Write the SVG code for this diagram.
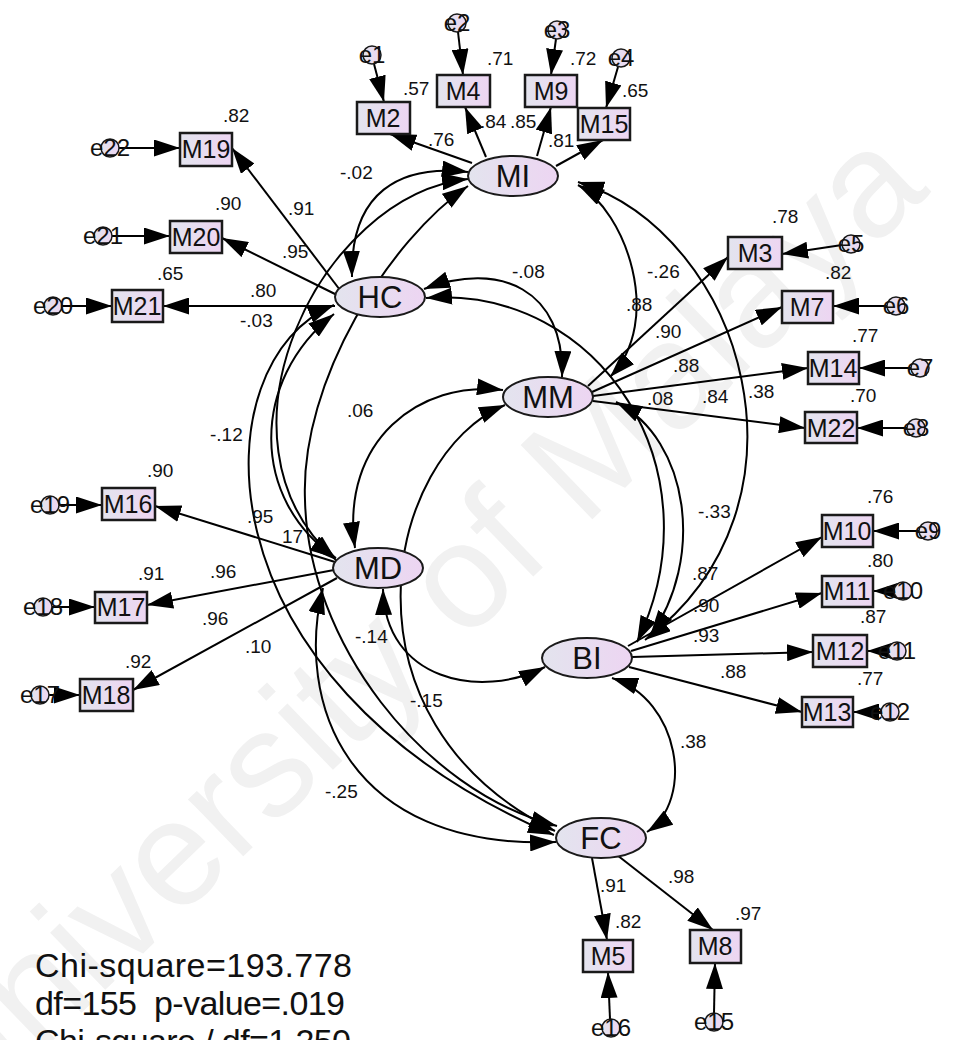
<svg xmlns="http://www.w3.org/2000/svg" width="955" height="1040" viewBox="0 0 955 1040">
<defs>
  <linearGradient id="fillg" x1="0" y1="0" x2="1" y2="0">
    <stop offset="0" stop-color="#e3e4ee"/>
    <stop offset="1" stop-color="#edd5f2"/>
  </linearGradient>
  <marker id="ah" viewBox="0 0 26 17" refX="26" refY="8.5" markerWidth="26" markerHeight="17" markerUnits="userSpaceOnUse" orient="auto-start-reverse">
    <path d="M0,0 L26,8.5 L0,17 z" fill="#000"/>
  </marker>
</defs>
<style>
  .lat { fill: url(#fillg); stroke: #1a1a1a; stroke-width: 2; }
  .obs { fill: url(#fillg); stroke: #1a1a1a; stroke-width: 2.5; }
  .err { fill: url(#fillg); stroke: #1a1a1a; stroke-width: 1.5; }
  .latt { font-family: "Liberation Sans", Arial, sans-serif; font-size: 31px; fill: #111; text-anchor: middle; }
  .obst { font-family: "Liberation Sans", Arial, sans-serif; font-size: 25px; fill: #111; text-anchor: middle; }
  .errt { font-family: "Liberation Sans", Arial, sans-serif; font-size: 24px; fill: #111; text-anchor: middle; }
  .num { font-family: "Liberation Sans", Arial, sans-serif; font-size: 19px; fill: #111; }
  .fit { font-family: "Liberation Sans", Arial, sans-serif; font-size: 34px; fill: #111; white-space: pre; }
  .wm { font-family: "Liberation Sans", Arial, sans-serif; font-size: 150px; fill: #f1f1f1; }
  #connectors path { fill: none; stroke: #000; stroke-width: 2; }
  .one { marker-end: url(#ah); }
  .two { marker-start: url(#ah); marker-end: url(#ah); }
</style>

<rect width="955" height="1040" fill="#ffffff"/>
<text class="wm" transform="translate(-40,1130) rotate(-44)">University of Malaya</text>

<g id="connectors">
  <!-- MI indicators -->
  <path class="one" d="M472,163 L390,134"/>
  <path class="one" d="M486,157 L465,107"/>
  <path class="one" d="M537,156 L551,107"/>
  <path class="one" d="M556,166 L603,140"/>
  <path class="one" d="M374,64 L384,102"/>
  <path class="one" d="M458,32 L463,75"/>
  <path class="one" d="M556,39 L551,75"/>
  <path class="one" d="M618,67 L606,108"/>
  <!-- HC indicators -->
  <path class="one" d="M340,290 L232,148"/>
  <path class="one" d="M337,295 L222,238"/>
  <path class="one" d="M335,306 L163,306"/>
  <path class="one" d="M119,148 L180,148"/>
  <path class="one" d="M112,236 L170,236"/>
  <path class="one" d="M62,306 L112,306"/>
  <!-- MM indicators -->
  <path class="one" d="M588,386 L728,257"/>
  <path class="one" d="M592,392 L782,307"/>
  <path class="one" d="M593,396 L808,368"/>
  <path class="one" d="M593,401 L805,428"/>
  <path class="one" d="M842,245 L782,254"/>
  <path class="one" d="M887,306 L833,306"/>
  <path class="one" d="M911,368 L859,368"/>
  <path class="one" d="M907,428 L857,428"/>
  <!-- MD indicators -->
  <path class="one" d="M335,562 L155,506"/>
  <path class="one" d="M334,570 L147,605"/>
  <path class="one" d="M337,578 L133,690"/>
  <path class="one" d="M59,505 L102,505"/>
  <path class="one" d="M52,607 L95,607"/>
  <path class="one" d="M49,695 L80,695"/>
  <!-- BI indicators -->
  <path class="one" d="M628,646 L822,537"/>
  <path class="one" d="M631,651 L822,593"/>
  <path class="one" d="M632,657 L813,652"/>
  <path class="one" d="M629,667 L802,712"/>
  <path class="one" d="M919,531 L873,531"/>
  <path class="one" d="M894,591 L873,591"/>
  <path class="one" d="M888,651 L867,651"/>
  <path class="one" d="M881,712 L853,712"/>
  <!-- FC indicators -->
  <path class="one" d="M592,858 L607,940"/>
  <path class="one" d="M617,855 L713,930"/>
  <path class="one" d="M610,1019 L608,972"/>
  <path class="one" d="M714,1013 L715,963"/>
  <!-- covariances between latent factors -->
  <path class="two" d="M468,172 C400,164 350,192 352,277"/>
  <path class="two" d="M468,179 C320,195 200,440 336,560"/>
  <path class="two" d="M468,186 C390,240 300,380 305,500 C308,640 420,790 557,826"/>
  <path class="two" d="M578,185 C625,210 665,320 610,377"/>
  <path class="two" d="M578,182 C745,235 825,505 645,640"/>
  <path class="two" d="M424,289 C500,260 565,290 562,377"/>
  <path class="two" d="M426,298 C600,285 720,470 637,642"/>
  <path class="two" d="M334,314 C250,380 250,500 336,558"/>
  <path class="two" d="M334,305 C200,360 190,680 554,835"/>
  <path class="two" d="M503,390 C420,380 340,440 355,548"/>
  <path class="two" d="M616,402 C690,440 705,560 650,636"/>
  <path class="two" d="M505,405 C385,455 330,720 555,831"/>
  <path class="two" d="M383,589 C385,680 480,700 545,667"/>
  <path class="two" d="M323,588 C295,700 345,850 556,842"/>
  <path class="two" d="M612,678 C680,700 695,800 647,832"/>
</g>

<!-- latent factors -->
<g id="MI"><ellipse class="lat" cx="513" cy="176" rx="45" ry="20"/><text class="latt" x="513" y="187">MI</text></g>
<g id="HC"><ellipse class="lat" cx="380" cy="297" rx="45" ry="20"/><text class="latt" x="380" y="308">HC</text></g>
<g id="MM"><ellipse class="lat" cx="548" cy="397" rx="45" ry="20"/><text class="latt" x="548" y="408">MM</text></g>
<g id="MD"><ellipse class="lat" cx="378" cy="568" rx="45" ry="20"/><text class="latt" x="378" y="579">MD</text></g>
<g id="BI"><ellipse class="lat" cx="587" cy="658" rx="45" ry="20"/><text class="latt" x="587" y="669">BI</text></g>
<g id="FC"><ellipse class="lat" cx="601" cy="838" rx="45" ry="20"/><text class="latt" x="601" y="849">FC</text></g>

<!-- observed items -->
<g id="M2"><rect class="obs" x="357" y="102" width="53" height="32"/><text class="obst" x="383" y="127">M2</text></g>
<g id="M4"><rect class="obs" x="437" y="75" width="53" height="32"/><text class="obst" x="463" y="100">M4</text></g>
<g id="M9"><rect class="obs" x="525" y="75" width="52" height="32"/><text class="obst" x="551" y="100">M9</text></g>
<g id="M15"><rect class="obs" x="578" y="108" width="52" height="32"/><text class="obst" x="604" y="133">M15</text></g>
<g id="M19"><rect class="obs" x="180" y="133" width="52" height="33"/><text class="obst" x="206" y="158">M19</text></g>
<g id="M20"><rect class="obs" x="170" y="221" width="52" height="32"/><text class="obst" x="196" y="246">M20</text></g>
<g id="M21"><rect class="obs" x="112" y="290" width="51" height="32"/><text class="obst" x="137" y="315">M21</text></g>
<g id="M3"><rect class="obs" x="728" y="237" width="54" height="32"/><text class="obst" x="755" y="262">M3</text></g>
<g id="M7"><rect class="obs" x="782" y="291" width="51" height="32"/><text class="obst" x="807" y="316">M7</text></g>
<g id="M14"><rect class="obs" x="808" y="352" width="51" height="32"/><text class="obst" x="833" y="377">M14</text></g>
<g id="M22"><rect class="obs" x="805" y="412" width="52" height="31"/><text class="obst" x="831" y="437">M22</text></g>
<g id="M16"><rect class="obs" x="102" y="488" width="53" height="32"/><text class="obst" x="128" y="513">M16</text></g>
<g id="M17"><rect class="obs" x="95" y="592" width="52" height="31"/><text class="obst" x="121" y="616">M17</text></g>
<g id="M18"><rect class="obs" x="80" y="679" width="53" height="32"/><text class="obst" x="106" y="704">M18</text></g>
<g id="M10"><rect class="obs" x="822" y="515" width="51" height="32"/><text class="obst" x="847" y="540">M10</text></g>
<g id="M11"><rect class="obs" x="822" y="576" width="51" height="31"/><text class="obst" x="847" y="600">M11</text></g>
<g id="M12"><rect class="obs" x="813" y="635" width="54" height="32"/><text class="obst" x="840" y="660">M12</text></g>
<g id="M13"><rect class="obs" x="802" y="697" width="51" height="30"/><text class="obst" x="827" y="721">M13</text></g>
<g id="M5"><rect class="obs" x="583" y="940" width="50" height="32"/><text class="obst" x="608" y="965">M5</text></g>
<g id="M8"><rect class="obs" x="690" y="930" width="51" height="33"/><text class="obst" x="715" y="955">M8</text></g>

<!-- error terms -->
<g id="e1"><circle class="err" cx="372" cy="55" r="9"/><text class="errt" x="372" y="63">e1</text></g>
<g id="e2"><circle class="err" cx="457" cy="23" r="9"/><text class="errt" x="457" y="31">e2</text></g>
<g id="e3"><circle class="err" cx="557" cy="30" r="9"/><text class="errt" x="557" y="38">e3</text></g>
<g id="e4"><circle class="err" cx="621" cy="58" r="9"/><text class="errt" x="621" y="66">e4</text></g>
<g id="e22"><circle class="err" cx="110" cy="148" r="9"/><text class="errt" x="110" y="156">e22</text></g>
<g id="e21"><circle class="err" cx="103" cy="236" r="9"/><text class="errt" x="103" y="244">e21</text></g>
<g id="e20"><circle class="err" cx="53" cy="306" r="9"/><text class="errt" x="53" y="314">e20</text></g>
<g id="e5"><circle class="err" cx="851" cy="244" r="9"/><text class="errt" x="851" y="252">e5</text></g>
<g id="e6"><circle class="err" cx="896" cy="306" r="9"/><text class="errt" x="896" y="314">e6</text></g>
<g id="e7"><circle class="err" cx="920" cy="368" r="9"/><text class="errt" x="920" y="376">e7</text></g>
<g id="e8"><circle class="err" cx="916" cy="428" r="9"/><text class="errt" x="916" y="436">e8</text></g>
<g id="e19"><circle class="err" cx="50" cy="505" r="9"/><text class="errt" x="50" y="513">e19</text></g>
<g id="e18"><circle class="err" cx="43" cy="607" r="9"/><text class="errt" x="43" y="615">e18</text></g>
<g id="e17"><circle class="err" cx="40" cy="695" r="9"/><text class="errt" x="40" y="703">e17</text></g>
<g id="e9"><circle class="err" cx="928" cy="531" r="9"/><text class="errt" x="928" y="539">e9</text></g>
<g id="e10"><circle class="err" cx="903" cy="591" r="9"/><text class="errt" x="903" y="599">e10</text></g>
<g id="e11"><circle class="err" cx="897" cy="651" r="9"/><text class="errt" x="897" y="659">e11</text></g>
<g id="e12"><circle class="err" cx="890" cy="712" r="9"/><text class="errt" x="890" y="720">e12</text></g>
<g id="e16"><circle class="err" cx="611" cy="1028" r="9"/><text class="errt" x="611" y="1036">e16</text></g>
<g id="e15"><circle class="err" cx="714" cy="1022" r="9"/><text class="errt" x="714" y="1030">e15</text></g>

<!-- estimates -->
<g id="estimates">
  <text class="num" x="403" y="95">.57</text>
  <text class="num" x="487" y="65">.71</text>
  <text class="num" x="570" y="65">.72</text>
  <text class="num" x="622" y="97">.65</text>
  <text class="num" x="428" y="146">.76</text>
  <text class="num" x="480" y="128">.84</text>
  <text class="num" x="510" y="128">.85</text>
  <text class="num" x="548" y="147">.81</text>
  <text class="num" x="340" y="179">-.02</text>
  <text class="num" x="223" y="122">.82</text>
  <text class="num" x="215" y="210">.90</text>
  <text class="num" x="157" y="280">.65</text>
  <text class="num" x="288" y="215">.91</text>
  <text class="num" x="282" y="258">.95</text>
  <text class="num" x="250" y="297">.80</text>
  <text class="num" x="240" y="327">-.03</text>
  <text class="num" x="772" y="223">.78</text>
  <text class="num" x="512" y="278">-.08</text>
  <text class="num" x="647" y="278">-.26</text>
  <text class="num" x="626" y="311">.88</text>
  <text class="num" x="825" y="279">.82</text>
  <text class="num" x="655" y="338">.90</text>
  <text class="num" x="673" y="372">.88</text>
  <text class="num" x="852" y="342">.77</text>
  <text class="num" x="748" y="398">.38</text>
  <text class="num" x="647" y="405">.08</text>
  <text class="num" x="702" y="403">.84</text>
  <text class="num" x="850" y="402">.70</text>
  <text class="num" x="347" y="417">.06</text>
  <text class="num" x="210" y="441">-.12</text>
  <text class="num" x="147" y="477">.90</text>
  <text class="num" x="247" y="523">.95</text>
  <text class="num" x="282" y="543">17</text>
  <text class="num" x="698" y="518">-.33</text>
  <text class="num" x="867" y="503">.76</text>
  <text class="num" x="138" y="580">.91</text>
  <text class="num" x="210" y="578">.96</text>
  <text class="num" x="692" y="580">.87</text>
  <text class="num" x="867" y="567">.80</text>
  <text class="num" x="202" y="625">.96</text>
  <text class="num" x="355" y="643">-.14</text>
  <text class="num" x="693" y="612">.90</text>
  <text class="num" x="860" y="623">.87</text>
  <text class="num" x="693" y="642">.93</text>
  <text class="num" x="245" y="653">.10</text>
  <text class="num" x="125" y="668">.92</text>
  <text class="num" x="720" y="678">.88</text>
  <text class="num" x="857" y="685">.77</text>
  <text class="num" x="410" y="707">-.15</text>
  <text class="num" x="680" y="748">.38</text>
  <text class="num" x="325" y="798">-.25</text>
  <text class="num" x="668" y="883">.98</text>
  <text class="num" x="600" y="892">.91</text>
  <text class="num" x="735" y="920">.97</text>
  <text class="num" x="615" y="928">.82</text>
</g>

<!-- model fit summary -->
<g id="fit">
  <text class="fit" x="35" y="977" textLength="317">Chi-square=193.778</text>
  <text class="fit" x="35" y="1015" textLength="310">df=155  p-value=.019</text>
  <text class="fit" x="35" y="1053" textLength="316">Chi-square / df=1.250</text>
</g>
</svg>
